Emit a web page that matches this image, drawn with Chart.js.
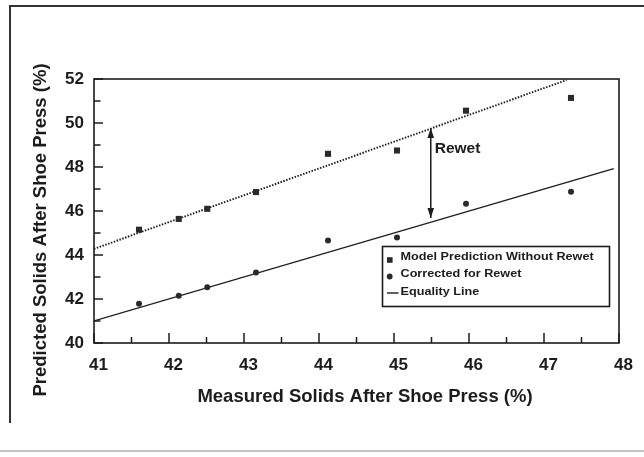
<!DOCTYPE html>
<html>
<head>
<meta charset="utf-8">
<script src="https://cdn.jsdelivr.net/npm/chart.js@4.4.1/dist/chart.umd.min.js"></script>
<style>
  body { margin: 0; background: #fff; }
  #wrap { position: relative; width: 644px; height: 457px; overflow: hidden; }
  #frame { position: absolute; left: 9px; top: 5px; width: 640px; height: 416px;
           border-top: 2px solid #333; border-left: 2px solid #333; }
  #scanEdge { position: absolute; left: 0; top: 450px; width: 644px; height: 2px; background: #c4c4c4; }
</style>
</head>
<body>
<div id="wrap">
  <div id="frame"></div>
  <div id="scanEdge"></div>
  <canvas id="chart"></canvas>
</div>
<script>
const FONT = '"Liberation Sans", Arial, sans-serif';
const INK = '#1c1c1c';

// measured solids (x) and the two model series (y)
const measured  = [41.6, 42.13, 42.51, 43.16, 44.12, 45.04, 45.96, 47.36];
const predicted = [45.15, 45.64, 46.1, 46.86, 48.6, 48.75, 50.56, 51.14];
const corrected = [41.78, 42.15, 42.53, 43.2, 44.66, 44.8, 46.33, 46.88];

// fitted line through the uncorrected predictions (dotted)
const fitX = [41, 47.3];
const fitY = [44.28, 51.95];

// equality line y = x
const eqX = [41, 47.93];
const eqY = [41, 47.93];

// rewet arrow
const arrowX = [45.49, 45.49];
const arrowY = [45.68, 49.77];
const rewetLabelY = 48.82;

const xTicks = { min: 41, max: 48, step: 0.5 };
const yTicks = { min: 40, max: 52, step: 1 };

const legendLabels = ['Model Prediction Without Rewet', 'Corrected for Rewet', 'Equality Line'];

const pts = (xs, ys) => xs.map((x, i) => ({ x: x, y: ys[i] }));

const framePlugin = {
  id: 'framePlugin',
  afterDraw(chart) {
    const ctx = chart.ctx;
    const a = chart.chartArea;
    const xs = chart.scales.x, ys = chart.scales.y;
    ctx.save();
    ctx.strokeStyle = INK;
    ctx.lineWidth = 1.6;
    ctx.strokeRect(a.left, a.top, a.right - a.left, a.bottom - a.top);

    // inward tick marks
    ctx.lineWidth = 1.5;
    ctx.beginPath();
    xs.ticks.forEach(t => {
      const px = xs.getPixelForValue(t.value);
      const len = Number.isInteger(t.value) ? 10 : 6;
      ctx.moveTo(px, a.bottom);
      ctx.lineTo(px, a.bottom - len);
    });
    ys.ticks.forEach(t => {
      const py = ys.getPixelForValue(t.value);
      const len = t.value % 2 === 0 ? 9 : 6.5;
      ctx.moveTo(a.left, py);
      ctx.lineTo(a.left + len, py);
    });
    ctx.stroke();

    // arrow heads
    const ax = xs.getPixelForValue(arrowX[0]);
    const yLow = ys.getPixelForValue(arrowY[0]);
    const yHigh = ys.getPixelForValue(arrowY[1]);
    ctx.fillStyle = INK;
    ctx.beginPath();
    ctx.moveTo(ax, yHigh);
    ctx.lineTo(ax - 3.3, yHigh + 10);
    ctx.lineTo(ax + 3.3, yHigh + 10);
    ctx.closePath();
    ctx.moveTo(ax, yLow);
    ctx.lineTo(ax - 3.3, yLow - 10);
    ctx.lineTo(ax + 3.3, yLow - 10);
    ctx.closePath();
    ctx.fill();

    ctx.font = 'bold 15.5px ' + FONT;
    ctx.textAlign = 'left';
    ctx.textBaseline = 'middle';
    ctx.fillText('Rewet', ax + 4, ys.getPixelForValue(rewetLabelY));

    // legend box
    ctx.lineWidth = 1.6;
    ctx.strokeRect(382.5, 246.5, 227, 60);
    ctx.fillStyle = '#2a2a2a';
    ctx.fillRect(387, 257.2, 5.6, 5.6);
    ctx.beginPath();
    ctx.arc(389.7, 276.5, 2.9, 0, Math.PI * 2);
    ctx.fill();
    ctx.beginPath();
    ctx.lineWidth = 1.4;
    ctx.moveTo(387, 293);
    ctx.lineTo(398.5, 293);
    ctx.stroke();
    ctx.fillStyle = INK;
    ctx.font = 'bold 11.5px ' + FONT;
    ctx.save();
    ctx.translate(400.5, 0);
    ctx.scale(1.1, 1);
    ctx.fillText(legendLabels[0], 0, 256.7);
    ctx.fillText(legendLabels[1], 0, 274);
    ctx.fillText(legendLabels[2], 0, 291.7);
    ctx.restore();

    // axis titles
    ctx.font = 'bold 18.5px ' + FONT;
    ctx.textAlign = 'center';
    ctx.textBaseline = 'alphabetic';
    ctx.fillText('Measured Solids After Shoe Press (%)', 365, 402);
    ctx.translate(45.5, 230);
    ctx.rotate(-Math.PI / 2);
    ctx.fillText('Predicted Solids After Shoe Press (%)', 0, 0);
    ctx.restore();
  }
};

const ctx = document.getElementById('chart').getContext('2d');

new Chart(ctx, {
  type: 'scatter',
  data: {
    datasets: [
      {
        label: legendLabels[0],
        data: pts(measured, predicted),
        pointStyle: 'rect',
        pointRadius: 4.3,
        backgroundColor: '#2a2a2a',
        borderWidth: 0
      },
      {
        label: legendLabels[1],
        data: pts(measured, corrected),
        pointStyle: 'circle',
        pointRadius: 3,
        backgroundColor: '#2a2a2a',
        borderWidth: 0
      },
      {
        label: legendLabels[2],
        data: pts(eqX, eqY),
        showLine: true,
        pointRadius: 0,
        borderColor: INK,
        borderWidth: 1.3
      },
      {
        label: 'fit',
        data: pts(fitX, fitY),
        showLine: true,
        pointRadius: 0,
        borderColor: INK,
        borderWidth: 1.9,
        borderDash: [1.5, 1.5]
      },
      {
        label: 'rewet',
        data: pts(arrowX, arrowY),
        showLine: true,
        pointRadius: 0,
        borderColor: INK,
        borderWidth: 1.5
      }
    ]
  },
  options: {
    responsive: true,
    maintainAspectRatio: false,
    animation: false,
    layout: { padding: { top: 79, right: 25, left: 0, bottom: 0 } },
    plugins: {
      legend: { display: false },
      tooltip: { enabled: false }
    },
    scales: {
      x: {
        type: 'linear',
        min: xTicks.min,
        max: xTicks.max,
        afterFit: s => { s.height = 114; },
        grid: { display: false, drawTicks: false },
        border: { display: false },
        ticks: {
          stepSize: xTicks.step,
          autoSkip: false,
          maxRotation: 0,
          padding: 12,
          labelOffset: 4.5,
          color: INK,
          font: { family: FONT, size: 17, weight: 'bold' },
          callback: v => Number.isInteger(v) ? v : ''
        }
      },
      y: {
        type: 'linear',
        min: yTicks.min,
        max: yTicks.max,
        afterFit: s => { s.width = 94; },
        grid: { display: false, drawTicks: false },
        border: { display: false },
        ticks: {
          stepSize: yTicks.step,
          autoSkip: false,
          padding: 10,
          color: INK,
          font: { family: FONT, size: 17, weight: 'bold' },
          callback: v => v % 2 === 0 ? v : ''
        }
      }
    }
  },
  plugins: [framePlugin]
});
</script>
</body>
</html>
